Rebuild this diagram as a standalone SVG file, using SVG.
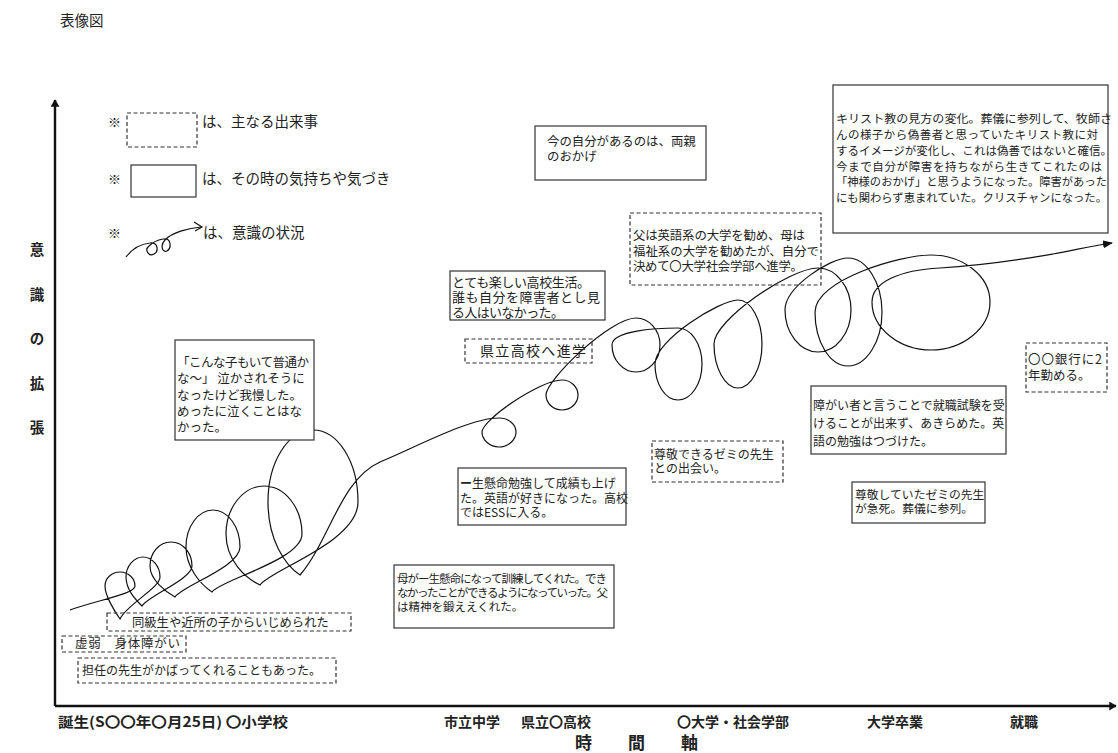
<svg xmlns="http://www.w3.org/2000/svg" width="1118" height="753" viewBox="0 0 1118 753">
<style>
.t{font-family:'Noto Sans CJK JP','Noto Sans CJK SC',sans-serif;fill:#222}
.b{font-weight:bold}
.box{fill:#fff;stroke:#333;stroke-width:1.2}
.dbox{fill:none;stroke:#333;stroke-width:1.2;stroke-dasharray:4 2.5}
.ln{fill:none;stroke:#111;stroke-width:1.2}
.ax{fill:none;stroke:#111;stroke-width:2.4}
</style>
<defs>
<marker id="ah" viewBox="0 0 10 8" refX="9" refY="4" markerWidth="10" markerHeight="8" markerUnits="userSpaceOnUse" orient="auto">
<path d="M0,0 L10,4 L0,8 z" fill="#111"/>
</marker>
<marker id="axh" viewBox="0 0 10 12" refX="9" refY="6" markerWidth="12" markerHeight="9" markerUnits="userSpaceOnUse" orient="auto">
<path d="M0,0 L10,6 L0,12 z" fill="#111"/>
</marker>
</defs>
<rect width="1118" height="753" fill="#fff"/>
<text class="t" x="60" y="26" font-size="14.5">表像図</text>

<g id="axes">
<line class="ax" x1="55" y1="706" x2="55" y2="100" marker-end="url(#axh)"/>
<line class="ax" x1="55" y1="706" x2="1116" y2="706" marker-end="url(#axh)"/>
<g class="t b" font-size="14.5" text-anchor="middle">
<text x="37" y="255">意</text>
<text x="37" y="300">識</text>
<text x="37" y="344">の</text>
<text x="37" y="389">拡</text>
<text x="37" y="433">張</text>
</g>
<g class="t b" font-size="14">
<text x="58" y="727" textLength="230" lengthAdjust="spacingAndGlyphs">誕生(S〇〇年〇月25日) 〇小学校</text>
<text x="444" y="727">市立中学</text>
<text x="521" y="727">県立〇高校</text>
<text x="677" y="727">〇大学・社会学部</text>
<text x="867" y="727">大学卒業</text>
<text x="1010" y="727">就職</text>
</g>
<g class="t b" font-size="17">
<text x="575" y="749">時</text>
<text x="628" y="749">間</text>
<text x="681" y="749">軸</text>
</g>
</g>

<g id="legend">
<text class="t" x="108" y="127" font-size="13">※</text>
<rect class="dbox" x="127" y="113" width="70" height="34"/>
<text class="t" x="202" y="127" font-size="14.5">は、主なる出来事</text>
<text class="t" x="108" y="184" font-size="13">※</text>
<rect class="box" x="131" y="165" width="65" height="32"/>
<text class="t" x="202" y="184" font-size="14.5">は、その時の気持ちや気づき</text>
<text class="t" x="108" y="238" font-size="13">※</text>
<path class="ln" d="M126,257 C132,249 140,244 150,243 C158,242 159,251 154,254 C149,257 144,250 149,246 C153,242 158,240 163,239 C171,237 172,248 167,251 C162,253 160,245 165,240 C172,232 190,228 201,227"/>
<path class="ln" d="M194,222 L202,227 L195,231"/>
<text class="t" x="203" y="238" font-size="14.5">は、意識の状況</text>
</g>

<g id="connectors">
<path class="ln" marker-end="url(#ah)" d="M70,610 C98,600 135,594 135,586 C135,578 128,572 120,572 C112,572 105,578 105,586 C105,596 115,612 120,619 C126,605 160,588 160,577 C160,566 152,557 143,557 C134,557 126,566 126,577 C126,590 136,600 142,606 C148,596 192,579 192,566 C192,553 183,542 171,542 C159,542 150,553 150,566 C150,580 166,592 175,597 C182,586 240,567 240,547 C240,527 228,510 213,510 C198,510 186,527 186,547 C186,567 200,584 212,592 C220,580 302,560 302,534 C302,508 285,486 264,486 C243,486 226,508 226,534 C226,560 245,578 260,585 C270,570 358,542 358,502 C358,462 338,430 313,430 C288,430 268,462 268,502 C268,540 285,565 300,575 C330,540 340,480 380,462 C420,445 470,418 499,418 C508,418 516,424 516,432 C516,440 508,447 499,447 C490,447 482,440 482,432 C482,420 540,380 562,380 C571,380 578,387 578,395 C578,403 571,410 562,410 C553,410 546,403 546,395 C546,380 610,318 636,318 C649,318 660,330 660,345 C660,360 649,372 636,372 C623,372 612,360 612,345 C612,330 660,328 678,328 C691,328 702,344 702,364 C702,384 691,400 678,400 C665,400 655,384 655,364 C655,340 720,300 738,300 C751,300 762,320 762,344 C762,368 751,388 738,388 C725,388 714,368 714,344 C714,320 790,268 818,268 C836,268 851,287 851,310 C851,333 836,352 818,352 C800,352 785,333 785,310 C785,287 830,258 848,258 C866,258 882,282 882,312 C882,342 866,366 848,366 C830,366 815,342 815,312 C815,280 900,255 931,255 C963,255 990,276 990,302 C990,328 963,350 931,350 C899,350 872,328 872,302 C872,282 900,270 940,268 C990,265 1030,258 1053,254 C1075,250 1092,246 1112,243"/>
</g>

<g id="n-feel1" class="t" font-size="12.5">
<rect class="box" x="175" y="340" width="139" height="100"/>
<text x="177" y="367" textLength="132">「こんな子もいて普通か</text>
<text x="177" y="383">な～」 泣かされそうに</text>
<text x="177" y="400">なったけど我慢した。</text>
<text x="177" y="416">めったに泣くことはな</text>
<text x="177" y="432">かった。</text>
</g>
<g id="n-highschool" class="t" font-size="14">
<rect class="dbox" x="465" y="339" width="127" height="24"/>
<text x="480" y="356" textLength="106">県立高校へ進学</text>
</g>
<g id="n-fun" class="t" font-size="13">
<rect class="box" x="450" y="271" width="155" height="49"/>
<text x="452" y="287" textLength="138">とても楽しい高校生活。</text>
<text x="452" y="302" textLength="148">誰も自分を障害者とし見</text>
<text x="452" y="317" textLength="112">る人はいなかった。</text>
</g>
<g id="n-parents" class="t" font-size="12.4">
<rect class="box" x="535" y="126" width="171" height="54"/>
<text x="547" y="146">今の自分があるのは、両親</text>
<text x="547" y="161">のおかげ</text>
</g>
<g id="n-univ" class="t" font-size="12.4">
<rect class="dbox" x="630" y="213" width="191" height="72"/>
<text x="633" y="240" textLength="172">父は英語系の大学を勧め、母は</text>
<text x="633" y="256" textLength="186">福祉系の大学を勧めたが、自分で</text>
<text x="633" y="271" textLength="170">決めて〇大学社会学部へ進学。</text>
</g>
<g id="n-christ" class="t" font-size="11.5">
<rect class="box" x="833" y="85" width="275" height="148"/>
<text x="836" y="123" textLength="276" lengthAdjust="spacingAndGlyphs">キリスト教の見方の変化。葬儀に参列して、牧師さ</text>
<text x="836" y="139" textLength="262">んの様子から偽善者と思っていたキリスト教に対</text>
<text x="836" y="155" textLength="276" lengthAdjust="spacingAndGlyphs">するイメージが変化し、これは偽善ではないと確信。</text>
<text x="836" y="171" textLength="266">今まで自分が障害を持ちながら生きてこれたのは</text>
<text x="836" y="186" textLength="271" lengthAdjust="spacingAndGlyphs">「神様のおかげ」と思うようになった。障害があった</text>
<text x="836" y="202" textLength="271" lengthAdjust="spacingAndGlyphs">にも関わらず恵まれていた。クリスチャンになった。</text>
</g>
<g id="n-seminar" class="t" font-size="12">
<rect class="dbox" x="652" y="441" width="131" height="41"/>
<text x="654" y="459">尊敬できるゼミの先生</text>
<text x="654" y="473">との出会い。</text>
</g>
<g id="n-job" class="t" font-size="12">
<rect class="box" x="811" y="386" width="195" height="68"/>
<text x="813" y="410">障がい者と言うことで就職試験を受</text>
<text x="813" y="428">けることが出来ず、あきらめた。英</text>
<text x="813" y="446">語の勉強はつづけた。</text>
</g>
<g id="n-death" class="t" font-size="11.8">
<rect class="box" x="852" y="482" width="133" height="41"/>
<text x="855" y="499">尊敬していたゼミの先生</text>
<text x="855" y="513">が急死。葬儀に参列。</text>
</g>
<g id="n-bank" class="t" font-size="12.5">
<rect class="dbox" x="1026" y="343" width="81" height="49"/>
<text x="1028" y="364" textLength="74">〇〇銀行に2</text>
<text x="1028" y="380">年勤める。</text>
</g>
<g id="n-study" class="t" font-size="12">
<rect class="box" x="458" y="468" width="168" height="57"/>
<text x="460" y="488"><tspan font-weight="bold">ー</tspan>生懸命勉強して成績も上げ</text>
<text x="460" y="503">た。英語が好きになった。高校</text>
<text x="460" y="517">ではESSに入る。</text>
</g>
<g id="n-mother" class="t" font-size="11.5">
<rect class="box" x="394" y="565" width="220" height="63"/>
<text x="397" y="583" textLength="210">母がー生懸命になって訓練してくれた。でき</text>
<text x="397" y="597" textLength="211">なかったことができるようになっていった。父</text>
<text x="397" y="611">は精神を鍛ええくれた。</text>
</g>
<g id="n-bully" class="t" font-size="12.3">
<rect class="dbox" x="107" y="613" width="244" height="18"/>
<text x="132" y="627">同級生や近所の子からいじめられた</text>
</g>
<g id="n-weak" class="t" font-size="12.5">
<rect class="dbox" x="62" y="636" width="124" height="16"/>
<text x="75" y="648" textLength="105">虚弱　身体障がい</text>
</g>
<g id="n-teacher" class="t" font-size="12">
<rect class="dbox" x="78" y="658" width="258" height="25"/>
<text x="82" y="675">担任の先生がかばってくれることもあった。</text>
</g>
</svg>
